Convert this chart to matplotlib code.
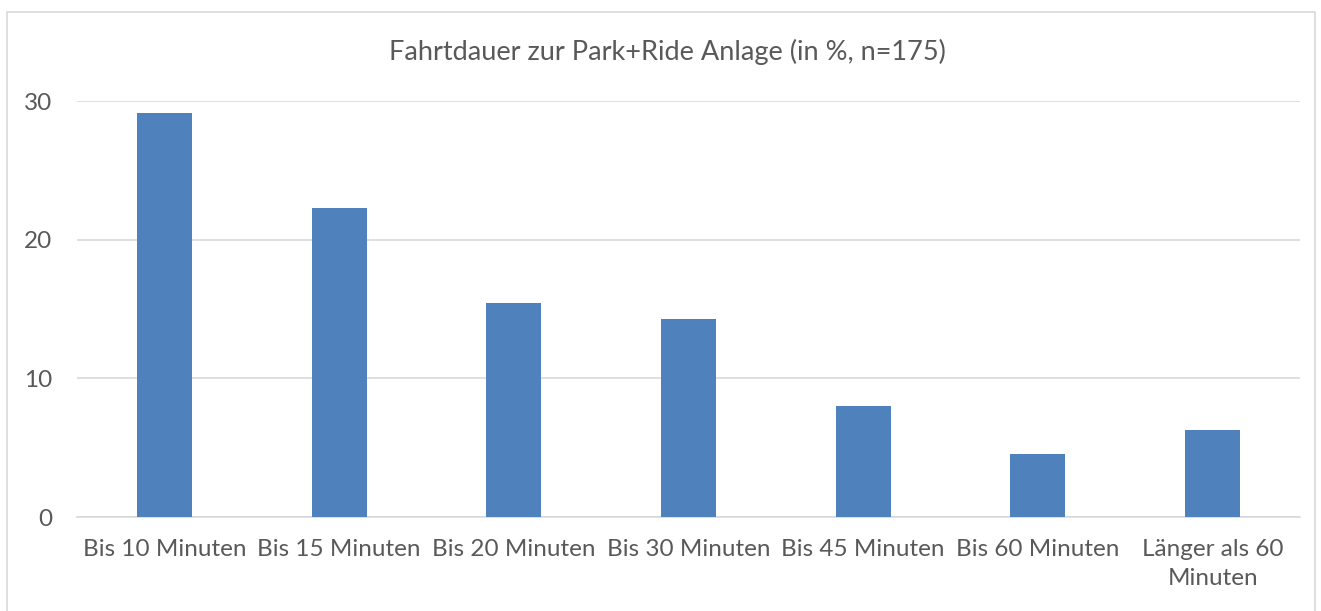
import matplotlib.pyplot as plt
from matplotlib.patches import Rectangle

categories = ['Bis 10 Minuten', 'Bis 15 Minuten', 'Bis 20 Minuten', 'Bis 30 Minuten',
              'Bis 45 Minuten', 'Bis 60 Minuten', 'Länger als 60\nMinuten']
# Anteile in % (n=175)
percent = [29.14, 22.29, 15.43, 14.29, 8.0, 4.57, 6.29]
yticks = [0, 10, 20, 30]

plt.rcParams['font.family'] = ['Lato', 'DejaVu Sans']
text_color = '#595959'

fig = plt.figure(figsize=(13.21, 6.11), dpi=100)
ax = fig.add_axes([77 / 1321, 1 - 517 / 611, (1300 - 77) / 1321, (517 - 101) / 611])

# Rahmen um das Diagramm
fig.patches.append(Rectangle((7 / 1321, -0.05), 1308 / 1321, 1.05 - 12 / 611,
                             transform=fig.transFigure, fill=False,
                             edgecolor='#d9d9d9', linewidth=1.2))

ax.bar(range(len(categories)), percent, width=0.315, color='#4f81bd', zorder=3)
ax.set_xlim(-0.5, len(categories) - 0.5)
ax.set_ylim(0, 30)
ax.set_yticks(yticks)
ax.set_xticks(range(len(categories)))
ax.set_xticklabels(categories, fontsize=17.5, color=text_color, linespacing=1.45)
ax.tick_params(axis='y', labelsize=17.5, labelcolor=text_color, length=0, pad=18)
ax.tick_params(axis='x', length=0, pad=16)
ax.grid(axis='y', color='#d9d9d9', linewidth=1.2, zorder=0)
for s in ['top', 'right', 'left']:
    ax.spines[s].set_visible(False)
ax.spines['bottom'].set_color('#d9d9d9')
ax.spines['bottom'].set_linewidth(1.2)

fig.text(667 / 1321, 1 - 52 / 611, 'Fahrtdauer zur Park+Ride Anlage (in %, n=175)',
         ha='center', va='center', fontsize=19.5, color=text_color)

fig.savefig('out.png', dpi=100)
